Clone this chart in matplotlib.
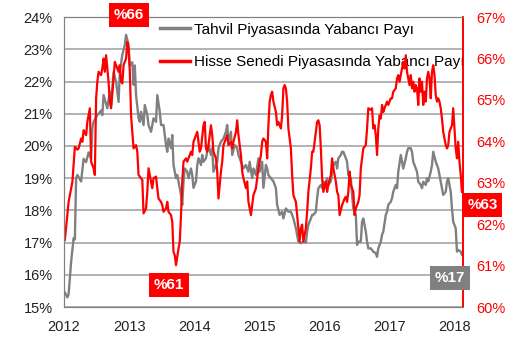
import matplotlib.pyplot as plt
import matplotlib.dates as mdates
import numpy as np
import pandas as pd

plt.rcParams['font.family'] = ['Liberation Sans', 'DejaVu Sans']

start = pd.Timestamp('2012-01-06')

# Tahvil piyasasinda yabanci payi (%), haftalik
tahvil_hafta = [0, 2, 3, 5, 7, 8, 9, 10, 13, 15, 17, 19, 21, 22, 23, 26, 27, 29, 30, 31,
                34, 36, 37, 39, 41, 43, 44, 46, 48, 49, 51, 52, 54, 55, 56, 57, 59, 60, 61, 63,
                64, 66, 67, 69, 71, 73, 74, 76, 77, 79, 81, 82, 83, 85, 86, 87, 89, 90, 91, 93,
                94, 95, 96, 98, 99, 101, 102, 103, 105, 106, 107, 109, 110, 111, 113, 114, 115, 117, 118, 119,
                121, 122, 123, 125, 127, 129, 130, 131, 133, 134, 136, 138, 139, 141, 143, 145, 147, 148, 150, 151,
                153, 155, 156, 158, 159, 161, 162, 163, 165, 167, 169, 170, 172, 174, 175, 177, 179, 181, 182, 183,
                185, 186, 187, 189, 191, 193, 194, 195, 197, 198, 199, 201, 202, 203, 205, 206, 207, 209, 210, 211,
                213, 214, 215, 217, 218, 219, 221, 222, 223, 225, 226, 227, 229, 230, 231, 233, 234, 235, 237, 238,
                239, 241, 242, 243, 245, 246, 247, 249, 250, 251, 253, 254, 255, 257, 258, 259, 261, 262, 263, 265,
                266, 267, 269, 270, 271, 273, 274, 275, 277, 278, 279, 281, 282, 283, 285, 286, 287, 289, 290, 291,
                293, 294, 295, 297, 298, 299, 301, 302, 303, 305, 306, 307, 309, 310, 311, 313, 314, 315, 317, 318]
tahvil = [15.45, 15.3, 15.4, 16.4, 17.14, 17.1, 19.0, 19.1, 18.9, 19.6, 19.5, 19.8, 19.6, 20.56, 20.75, 20.96, 21.0, 21.1, 20.96, 21.58,
          21.17, 21.69, 21.27, 22.3, 21.99, 21.37, 22.3, 22.83, 23.14, 23.45, 23.14, 22.5, 22.6, 21.9, 22.5, 21.58, 20.87, 20.75, 21.06, 20.65,
          21.27, 20.96, 20.65, 20.44, 20.86, 20.75, 21.58, 21.06, 20.65, 20.65, 20.03, 19.82, 20.23, 19.93, 20.34, 19.41, 19.0, 19.1, 18.9, 18.48,
          18.17, 18.9, 19.3, 19.2, 19.0, 19.3, 19.1, 18.7, 18.9, 19.41, 19.62, 19.41, 19.72, 19.51, 19.62, 19.82, 20.03, 19.72, 19.93, 19.2,
          19.41, 19.51, 19.93, 20.13, 20.23, 20.44, 20.65, 20.13, 20.44, 19.72, 20.03, 19.93, 19.72, 19.51, 19.3, 19.41, 19.2, 19.51, 19.0, 19.3,
          19.1, 19.62, 19.2, 19.51, 18.7, 19.41, 19.3, 19.1, 19.0, 18.9, 18.69, 18.17, 17.86, 17.96, 17.75, 18.06, 17.96, 17.96, 17.86, 17.75,
          17.44, 17.24, 17.03, 16.98, 17.03, 17.0, 17.34, 17.55, 17.75, 17.86, 17.86, 17.96, 18.38, 18.69, 18.79, 18.69, 18.9, 18.79, 19.0, 18.79,
          18.9, 19.2, 19.41, 19.51, 19.3, 19.62, 19.72, 19.82, 19.82, 19.62, 19.51, 19.1, 19.0, 18.48, 18.06, 17.86, 16.93, 17.03, 17.03, 17.65,
          17.75, 17.34, 17.03, 16.82, 16.82, 16.77, 16.72, 16.67, 16.56, 16.82, 17.03, 17.24, 17.34, 17.86, 17.96, 18.17, 18.27, 18.38, 18.58, 18.79,
          18.69, 19.2, 19.72, 19.51, 19.3, 19.62, 19.82, 19.93, 19.93, 19.82, 19.51, 19.3, 19.2, 18.89, 18.79, 18.69, 18.89, 18.79, 19.0, 18.9,
          19.2, 19.41, 19.82, 19.51, 19.41, 19.3, 18.89, 18.69, 18.48, 18.58, 18.89, 19.0, 18.58, 18.06, 17.65, 17.44, 16.72, 16.77, 16.72, 16.62]

# Hisse senedi piyasasinda yabanci payi (%), haftalik
hisse_hafta = [0, 2, 3, 4, 6, 7, 8, 10, 11, 13, 14, 15, 17, 18, 20, 21, 23, 24, 25, 26,
               27, 29, 30, 31, 32, 33, 35, 36, 37, 39, 40, 41, 43, 44, 45, 46, 47, 49, 50, 51,
               52, 53, 54, 55, 57, 58, 59, 61, 62, 63, 65, 66, 67, 69, 70, 71, 73, 74, 75, 77,
               78, 79, 81, 82, 83, 85, 86, 87, 88, 89, 91, 92, 93, 94, 95, 97, 98, 99, 101, 102,
               103, 105, 106, 107, 108, 109, 111, 112, 113, 114, 115, 117, 118, 119, 121, 122, 123, 125, 126, 127,
               129, 130, 131, 133, 134, 135, 137, 138, 139, 141, 142, 143, 145, 146, 147, 149, 150, 151, 153, 154,
               155, 157, 158, 159, 161, 162, 163, 164, 165, 166, 167, 169, 170, 171, 173, 174, 175, 176, 177, 178,
               179, 181, 182, 183, 185, 186, 187, 188, 189, 190, 191, 193, 194, 195, 197, 198, 199, 200, 202, 203,
               204, 205, 206, 207, 209, 210, 211, 213, 214, 215, 217, 218, 219, 220, 222, 223, 224, 225, 226, 227,
               228, 229, 231, 232, 233, 235, 236, 237, 238, 239, 241, 242, 243, 245, 246, 247, 248, 249, 250, 251,
               252, 253, 254, 255, 256, 257, 258, 259, 261, 262, 263, 265, 266, 267, 268, 269, 270, 271, 272, 273,
               274, 275, 276, 277, 278, 279, 280, 281, 282, 283, 284, 285, 286, 287, 288, 289, 290, 291, 292, 293,
               294, 295, 296, 297, 298, 299, 300, 301, 302, 303, 305, 306, 307, 308, 309, 310, 311, 312, 313, 314,
               315, 316, 317, 318]
hisse = [61.62, 62.22, 62.54, 62.7, 63.02, 63.43, 63.87, 63.8, 63.83, 64.07, 63.99, 64.27, 64.15, 64.47, 64.8, 63.51, 63.35, 63.19, 65.04, 65.44,
         65.68, 65.6, 65.76, 66.0, 65.68, 66.08, 65.44, 64.96, 64.8, 65.52, 65.92, 65.84, 65.68, 65.84, 65.44, 65.4, 65.84, 66.0, 66.4, 66.24,
         65.68, 64.63, 64.23, 63.83, 63.91, 63.75, 63.19, 63.11, 63.07, 62.26, 62.38, 62.78, 63.35, 63.03, 62.87, 63.11, 63.15, 62.87, 62.62, 62.54,
         62.46, 62.3, 62.38, 62.54, 62.3, 62.22, 62.06, 61.33, 61.25, 61.01, 61.41, 61.58, 62.22, 63.02, 63.51, 63.59, 63.51, 63.59, 63.75, 63.67,
         63.99, 64.15, 64.23, 63.99, 63.75, 63.83, 64.39, 64.47, 63.83, 63.75, 63.91, 64.39, 64.15, 63.75, 63.59, 63.27, 62.62, 63.27, 63.51, 63.91,
         64.07, 64.15, 63.91, 63.99, 63.83, 63.99, 64.23, 64.51, 64.15, 63.67, 63.27, 63.11, 62.87, 63.03, 62.54, 62.22, 62.46, 62.7, 62.87, 63.11,
         63.35, 63.67, 63.99, 64.07, 63.99, 63.59, 64.39, 64.96, 65.12, 65.2, 64.96, 64.71, 64.39, 64.47, 64.31, 64.63, 65.28, 65.36, 65.28, 64.96,
         64.31, 63.83, 63.19, 62.7, 62.54, 62.22, 61.9, 61.58, 61.9, 61.99, 61.58, 61.9, 62.3, 62.78, 63.35, 63.75, 63.75, 63.99, 64.47, 64.51,
         64.39, 63.83, 63.11, 62.78, 63.03, 62.78, 62.95, 63.19, 63.59, 63.35, 63.03, 62.78, 62.7, 62.22, 62.46, 62.54, 62.62, 62.66, 62.54, 62.78,
         63.27, 62.95, 62.78, 62.22, 62.38, 62.54, 62.7, 63.35, 63.59, 63.83, 63.91, 64.31, 64.8, 64.76, 64.8, 64.31, 64.39, 64.15, 63.67, 64.31,
         64.63, 64.55, 64.88, 64.71, 64.8, 64.88, 64.96, 64.88, 65.04, 65.04, 65.2, 65.28, 65.52, 65.6, 65.44, 65.6, 65.76, 65.92, 65.76, 66.08,
         65.68, 65.52, 65.36, 65.6, 65.28, 65.44, 65.2, 65.36, 65.28, 64.88, 65.52, 65.2, 65.44, 64.88, 65.2, 64.96, 65.52, 65.68, 65.52, 65.04,
         65.68, 65.84, 65.6, 65.12, 64.96, 65.04, 64.96, 64.8, 64.55, 64.23, 63.91, 63.83, 63.91, 64.23, 64.31, 64.39, 64.8, 64.31, 63.83, 63.59,
         63.99, 63.51, 63.19, 62.78]

sol_ticks = np.arange(15, 25)
sag_ticks = np.arange(60, 68)
yillar = [2012, 2013, 2014, 2015, 2016, 2017, 2018]

tahvil_tarih = start + pd.to_timedelta(np.array(tahvil_hafta) * 7, unit='D')
hisse_tarih = start + pd.to_timedelta(np.array(hisse_hafta) * 7, unit='D')

gri = '#808080'
kirmizi = '#FF0000'

fig = plt.figure(figsize=(5.16, 3.57), dpi=100)
ax = fig.add_axes([0.124, 0.140, 0.773, 0.812])
ax2 = ax.twinx()

l1, = ax.plot(tahvil_tarih, tahvil, color=gri, lw=1.7, label='Tahvil Piyasasında Yabancı Payı')
l2, = ax2.plot(hisse_tarih, hisse, color=kirmizi, lw=1.6, label='Hisse Senedi Piyasasında Yabancı Payı')

ax.set_ylim(15, 24)
ax.set_yticks(sol_ticks)
ax.set_yticklabels([f'{v}%' for v in sol_ticks])
ax2.set_ylim(60, 67)
ax2.set_yticks(sag_ticks)
ax2.set_yticklabels([f'{v}%' for v in sag_ticks], color=kirmizi)

ax.set_xlim(pd.Timestamp('2012-01-01'), pd.Timestamp('2018-02-14'))
ax.set_xticks([pd.Timestamp(f'{y}-01-01') for y in yillar])
ax.xaxis.set_major_formatter(mdates.DateFormatter('%Y'))

ax.grid(axis='y', color='#A6A6A6', lw=1.2)
ax.set_axisbelow(True)
ax.tick_params(axis='y', length=0, pad=8, labelsize=10.5, colors='#222222')
ax.tick_params(axis='x', length=0, pad=9, labelsize=10.5, colors='#222222')
ax2.tick_params(axis='y', length=0, pad=10, labelsize=10.5, colors=kirmizi)

for a in (ax, ax2):
    for s in ('left', 'top', 'bottom'):
        a.spines[s].set_color(gri)
    a.spines['right'].set_color(kirmizi)
    a.spines['right'].set_linewidth(1.2)

leg = ax.legend([l1, l2], [l1.get_label(), l2.get_label()], loc='upper left',
                bbox_to_anchor=(0.205, 1.028), frameon=False, fontsize=11,
                handlelength=2.0, handletextpad=0.25, labelspacing=1.2)
for h in leg.legend_handles:
    h.set_linewidth(2.5)

kutu = dict(boxstyle='square,pad=0.3', ec='none')
fig.text(129 / 516, 1 - 15 / 357, '%66', color='white', fontsize=11, fontweight='bold',
         ha='center', va='center', bbox=dict(kutu, fc=kirmizi))
fig.text(169 / 516, 1 - 285 / 357, '%61', color='white', fontsize=11, fontweight='bold',
         ha='center', va='center', bbox=dict(kutu, fc=kirmizi))
fig.text(482.5 / 516, 1 - 205 / 357, '%63', color='white', fontsize=11, fontweight='bold',
         ha='center', va='center', bbox=dict(kutu, fc=kirmizi))
fig.text(450 / 516, 1 - 278 / 357, '%17', color='white', fontsize=11, fontweight='bold',
         ha='center', va='center', bbox=dict(kutu, fc=gri))

fig.savefig('out.png', dpi=100)
